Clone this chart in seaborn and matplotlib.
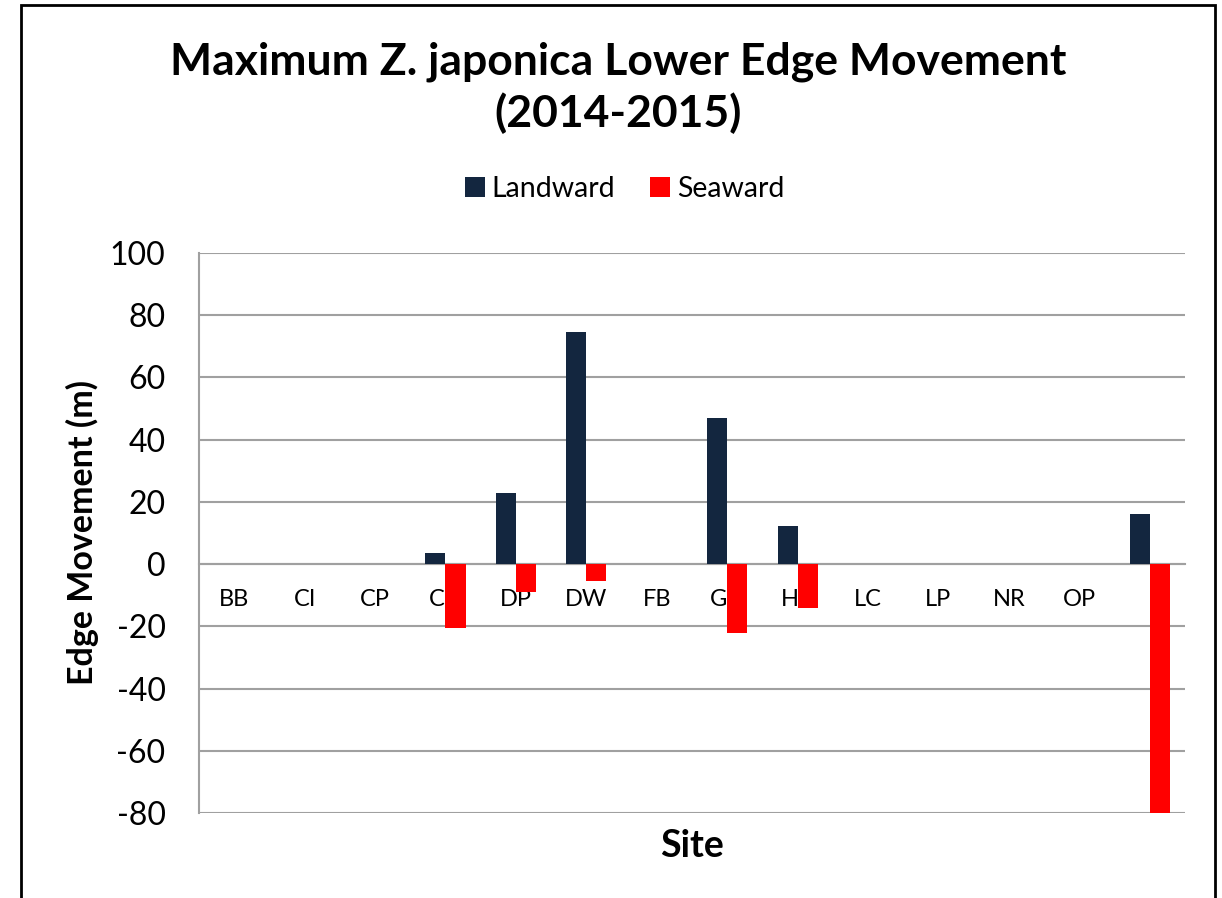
import matplotlib.pyplot as plt
import seaborn as sns
import numpy as np
import pandas as pd
from matplotlib.patches import Rectangle

sites = ["BB", "CI", "CP", "CH", "DP", "DW", "FB", "GH", "HC", "LC", "LP", "NR", "OP", ""]
landward = [0, 0, 0, 3.7, 23.0, 74.5, 0, 46.8, 12.3, 0, 0, 0, 0, 16.0]
seaward = [0, 0, 0, -20.5, -9.0, -5.3, 0, -22.3, -14.0, 0, 0, 0, 0, -80.0]
yticks = [-80, -60, -40, -20, 0, 20, 40, 60, 80, 100]

sns.set_style("white")
plt.rcParams['font.family'] = ['Lato', 'DejaVu Sans']
plt.rcParams['text.color'] = 'black'
plt.rcParams['axes.labelcolor'] = 'black'

df = pd.DataFrame({
    "Site": sites * 2,
    "Direction": ["Landward"] * len(sites) + ["Seaward"] * len(sites),
    "Value": landward + seaward,
})

fig = plt.figure(figsize=(12.22, 8.98), dpi=100)
ax = fig.add_axes([0.1628, 0.0947, 0.8069, 0.6236])

sns.barplot(
    data=df, x="Site", y="Value", hue="Direction", order=sites,
    palette={"Landward": "#13263F", "Seaward": "#FF0000"},
    width=0.57, gap=0, saturation=1, errorbar=None, ax=ax,
)
for p in ax.patches:
    p.set_zorder(3)
    p.set_edgecolor("none")

ax.set_ylim(-80, 100)
ax.set_xlim(-0.5, len(sites) - 0.5)
ax.set_yticks(yticks)
ax.set_yticklabels([str(t) for t in yticks])
ax.set_axisbelow(True)
ax.yaxis.grid(True, color="#A0A0A0", linewidth=1.5)
ax.xaxis.grid(False)

for s in ["top", "right"]:
    ax.spines[s].set_visible(False)
ax.spines["left"].set_color("#A0A0A0")
ax.spines["left"].set_linewidth(1.5)
ax.spines["bottom"].set_color("#A0A0A0")
ax.spines["bottom"].set_linewidth(1.5)
ax.spines["bottom"].set_position(("data", 0))

ax.set_xticks(np.arange(len(sites)))
ax.set_xticklabels(sites)
ax.set_xticks(np.arange(len(sites) + 1) - 0.5, minor=True)
ax.tick_params(axis="x", which="major", length=0, pad=18, labelsize=17, labelcolor="black")
ax.tick_params(axis="x", which="minor", length=6, width=1.5, color="#A0A0A0", direction="out")
ax.tick_params(axis="y", length=8, width=1.5, color="#A0A0A0", direction="out", pad=16,
               labelsize=23, labelcolor="black")
for t in ax.get_xticklabels():
    t.set_zorder(1)

ax.set_xlabel("")
ax.set_ylabel("Edge Movement (m)", fontsize=24.5, fontweight="bold", labelpad=8)
fig.text(0.5663, 0.058, "Site", ha="center", va="center", fontsize=27, fontweight="bold")

fig.text(0.506, 0.902, "Maximum Z. japonica Lower Edge Movement\n(2014-2015)",
         ha="center", va="center", fontsize=32, fontweight="bold", linespacing=1.3)

handles, labels = ax.get_legend_handles_labels()
ax.legend(handles, labels, loc="center", bbox_to_anchor=(0.511, 0.79), bbox_transform=fig.transFigure,
          ncol=2, frameon=False, fontsize=20.5, handlelength=0.7, handleheight=0.7,
          handletextpad=0.25, columnspacing=1.2)

fig.patches.append(Rectangle((0.0172, -0.05), 0.977, 1.044, transform=fig.transFigure,
                             fill=False, edgecolor="black", linewidth=2))

fig.savefig("out.png", dpi=100)
